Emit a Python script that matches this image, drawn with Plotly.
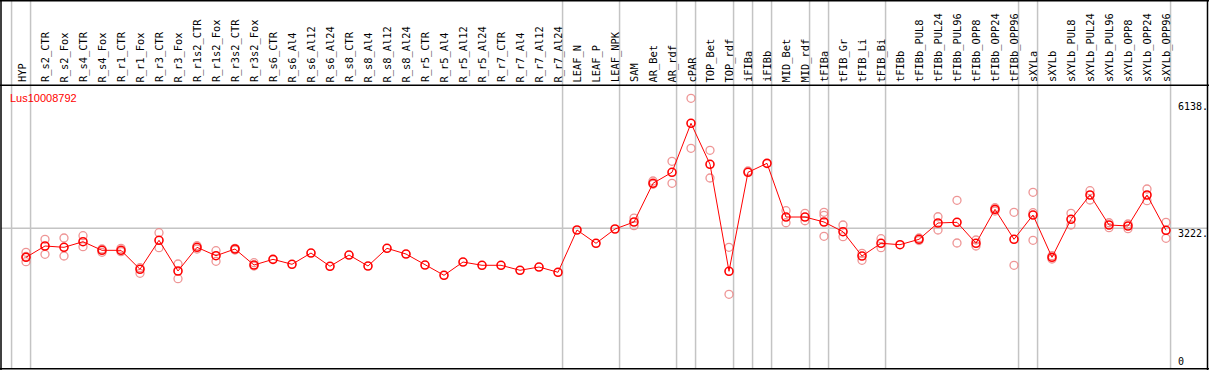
import plotly.graph_objects as go

W, H = 1209, 370

title = "Lus10008792"
categories = ["HYP", "R_s2_CTR", "R_s2_Fox", "R_s4_CTR", "R_s4_Fox", "R_r1_CTR", "R_r1_Fox",
              "R_r3_CTR", "R_r3_Fox", "R_r1s2_CTR", "R_r1s2_Fox", "R_r3s2_CTR", "R_r3s2_Fox",
              "R_s6_CTR", "R_s6_Al4", "R_s6_Al12", "R_s6_Al24", "R_s8_CTR", "R_s8_Al4",
              "R_s8_Al12", "R_s8_Al24", "R_r5_CTR", "R_r5_Al4", "R_r5_Al12", "R_r5_Al24",
              "R_r7_CTR", "R_r7_Al4", "R_r7_Al12", "R_r7_Al24", "LEAF_N", "LEAF_P", "LEAF_NPK",
              "SAM", "AR_Bet", "AR_rdf", "cPAR", "TOP_Bet", "TOP_rdf", "iFIBa", "iFIBb",
              "MID_Bet", "MID_rdf", "tFIBa", "tFIB_Gr", "tFIB_Li", "tFIB_Bi", "tFIBb",
              "tFIBb_PUL8", "tFIBb_PUL24", "tFIBb_PUL96", "tFIBb_OPP8", "tFIBb_OPP24",
              "tFIBb_OPP96", "sXYLa", "sXYLb", "sXYLb_PUL8", "sXYLb_PUL24", "sXYLb_PUL96",
              "sXYLb_OPP8", "sXYLb_OPP24", "sXYLb_OPP96"]

mean_values = [2555, 2815, 2785, 2914, 2716, 2716, 2280, 2946, 2241, 2785, 2592, 2746, 2378,
               2509, 2395, 2654, 2349, 2608, 2355, 2762, 2631, 2378, 2142, 2447, 2372,
               2372, 2257, 2332, 2211, 3183, 2877, 3206, 3367, 4256, 4509, 5635, 4693,
               2234, 4509, 4715, 3481, 3481, 3367, 3144, 2585, 2877, 2845, 2969, 3344,
               3360, 2877, 3658, 2969, 3527, 2555, 3429, 3987, 3298, 3275, 3987, 3176]

replicate_values = [
    [2670, 2574, 2454], [2969, 2624], [2999, 2585], [3052, 2799], [2746, 2670],
    [2762, 2684], [2316, 2188], [3121, 2776], [2401, 2064], [2822, 2746],
    [2707, 2463], [2762, 2723], [2431, 2355], [], [], [], [], [], [], [], [], [], [],
    [], [], [], [], [], [], [], [], [],
    [3458, 3282], [4309, 4233], [4761, 4256], [6209, 5060], [5014, 4378],
    [2785, 1705], [4539], [], [3626, 3350], [3566, 3396], [3589, 3521, 3038],
    [3298, 3029], [2647, 2486], [2983, 2776], [], [2999, 2941], [3488, 3183],
    [3865, 2884], [2953, 2815], [3695, 3619], [3589, 2372], [4049, 3580, 2946],
    [2592, 2516], [3566, 3298], [4086, 3872], [3350, 3236], [3321, 3213],
    [4125, 3856], [3360, 2992]]

# indices of categories after which a group separator is drawn (-1 = before first)
group_breaks = [-1, 0, 28, 31, 34, 35, 37, 38, 39, 41, 42, 45, 52, 53, 60]

ytick_vals = [6138, 3222, 0]
ytick_text = ["6138.", "3222.", "0"]
grid_value = 3222

idx = list(range(len(categories)))

# axis geometry (pixels)
x_first, x_step = 26.0, 19.0
x0 = -x_first / x_step
x1 = x0 + W / x_step
y_zero_px, px_per_unit = 368.5, 140.2 / 3222.0
y1 = y_zero_px / px_per_unit
y0 = y1 - H / px_per_unit


def py(px):
    return 1 - px / H


def pxx(px):
    return px / W


rep_x, rep_y = [], []
for i, reps in enumerate(replicate_values):
    for r in reps:
        rep_x.append(i)
        rep_y.append(r)

fig = go.Figure()
fig.add_trace(go.Scatter(
    x=rep_x, y=rep_y, mode="markers", hoverinfo="skip",
    marker=dict(symbol="circle-open", size=8, color="rgba(235,130,130,0.85)",
                line=dict(width=1.3, color="rgba(235,130,130,0.85)")),
    showlegend=False))
fig.add_trace(go.Scatter(
    x=idx, y=mean_values, mode="lines+markers",
    line=dict(color="#ff0000", width=1),
    marker=dict(symbol="circle-open", size=8, color="#ff0000",
                line=dict(width=1.6, color="#ff0000")),
    showlegend=False))

shapes = []
for k in group_breaks:
    shapes.append(dict(type="line", xref="x", yref="paper", x0=k + 0.24, x1=k + 0.24,
                       y0=py(368.5), y1=1, line=dict(color="#c4c4c4", width=1.5),
                       layer="below"))
shapes.append(dict(type="line", xref="paper", yref="y", x0=pxx(1), x1=pxx(1207.5),
                   y0=grid_value, y1=grid_value, line=dict(color="#c4c4c4", width=1.5),
                   layer="below"))
black = dict(color="#000000", width=1.5)
shapes += [
    dict(type="line", xref="paper", yref="paper", x0=0, x1=1, y0=py(0.7), y1=py(0.7), line=black),
    dict(type="line", xref="paper", yref="paper", x0=0, x1=1, y0=py(85.2), y1=py(85.2), line=black),
    dict(type="line", xref="paper", yref="paper", x0=0, x1=1, y0=py(368.7), y1=py(368.7), line=black),
    dict(type="line", xref="paper", yref="paper", x0=pxx(1), x1=pxx(1), y0=0, y1=1, line=black),
    dict(type="line", xref="paper", yref="paper", x0=pxx(1207.5), x1=pxx(1207.5), y0=0, y1=1, line=black),
]

annotations = []
for i, c in enumerate(categories):
    annotations.append(dict(
        x=i, xref="x", y=py(83.5), yref="paper", text=c, showarrow=False,
        textangle=-90, xanchor="center", yanchor="bottom", xshift=-4 if i == 0 else 0,
        borderpad=0,
        font=dict(family="DejaVu Sans Mono", size=10.4, color="#000000")))

annotations.append(dict(
    x=pxx(9), xref="paper", y=py(90.5), yref="paper", text=title, showarrow=False,
    xanchor="left", yanchor="top", borderpad=0,
    font=dict(family="Liberation Sans, Arial", size=11, color="#ff0000")))

for v, t in zip(ytick_vals, ytick_text):
    annotations.append(dict(
        x=pxx(1176.5), xref="paper", y=v, yref="y", text=t, showarrow=False,
        xanchor="left", yanchor="bottom" if v == 0 else "top",
        yshift=1, borderpad=0,
        font=dict(family="DejaVu Sans Mono", size=10, color="#000000")))

fig.update_layout(
    width=W, height=H, margin=dict(l=0, r=0, t=0, b=0),
    paper_bgcolor="white", plot_bgcolor="white",
    xaxis=dict(range=[x0, x1], visible=False, fixedrange=True),
    yaxis=dict(range=[y0, y1], visible=False, fixedrange=True),
    shapes=shapes, annotations=annotations,
)

fig.write_html("out.html", config={"displayModeBar": False},
               post_script="document.body.style.margin='0';document.body.style.overflow='hidden';")
